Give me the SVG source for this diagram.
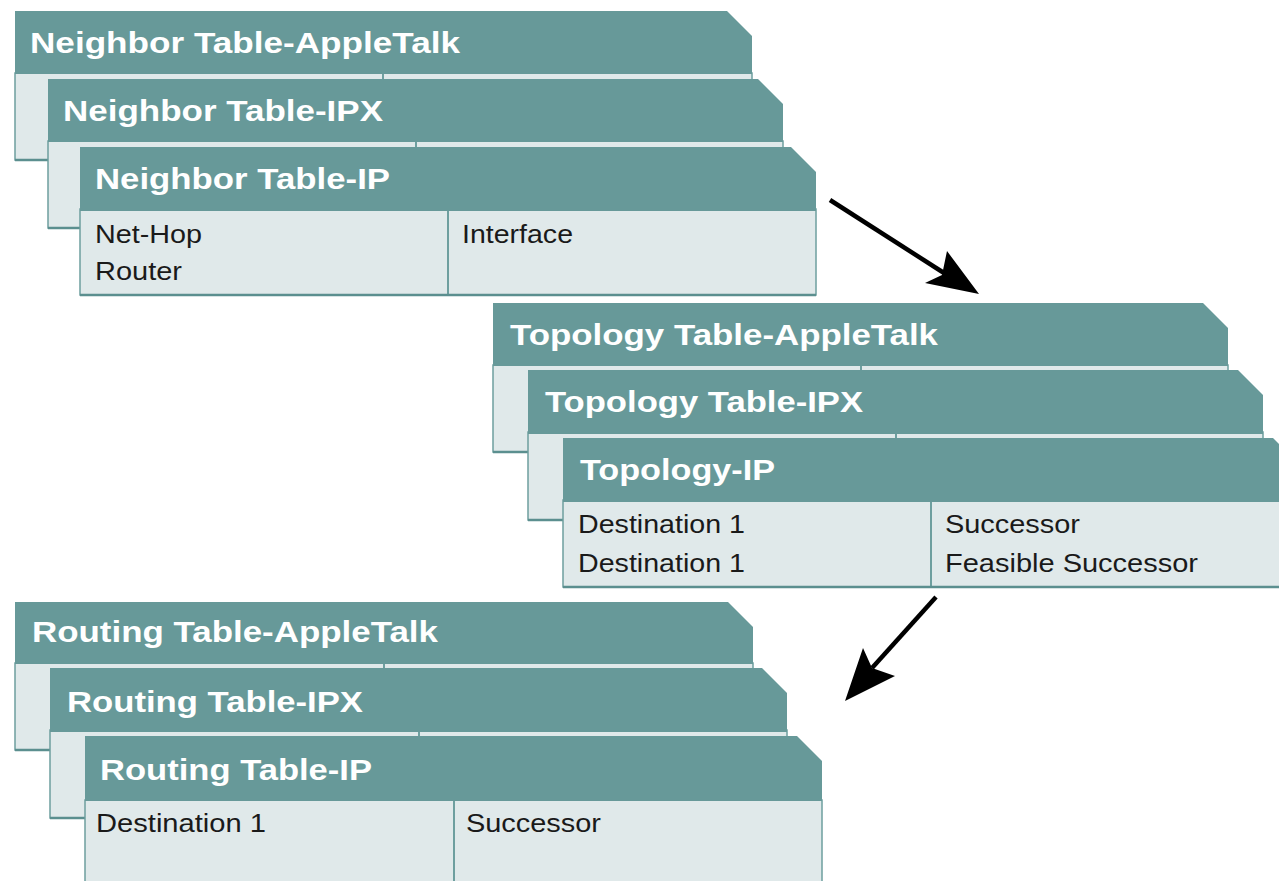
<svg xmlns="http://www.w3.org/2000/svg" width="1279" height="881" viewBox="0 0 1279 881">
<style>
.hd{fill:#679999}
.bd{fill:#e0e9ea;stroke:#6e9f9f;stroke-width:1.5}
.bl{stroke:#5b8f8f;stroke-width:2.5}
.dv{stroke:#6e9f9f;stroke-width:2}
.ht{font-family:"Liberation Sans",Arial,sans-serif;font-weight:bold;font-size:29.5px;fill:#ffffff}
.bt{font-family:"Liberation Sans",Arial,sans-serif;font-size:26px;fill:#1a1a1a}
.ar{stroke:#000;stroke-width:4.5;fill:none}
.ah{fill:#000}
</style>
<rect width="1279" height="881" fill="#ffffff"/>
<g id="neighbor">
 <g id="n-appletalk">
  <rect class="bd" x="15" y="73" width="737" height="87"/>
  <line class="dv" x1="383" y1="73" x2="383" y2="160"/>
  <line class="bl" x1="15" y1="160" x2="752" y2="160"/>
  <path class="hd" d="M15,11 H727 L752,36 V74 H15 Z"/>
  <text class="ht" x="30" y="53" textLength="430" lengthAdjust="spacingAndGlyphs">Neighbor Table-AppleTalk</text>
 </g>
 <g id="n-ipx">
  <rect class="bd" x="48" y="141" width="735" height="87"/>
  <line class="dv" x1="416" y1="141" x2="416" y2="228"/>
  <line class="bl" x1="48" y1="228" x2="783" y2="228"/>
  <path class="hd" d="M48,79 H758 L783,104 V142 H48 Z"/>
  <text class="ht" x="63" y="121" textLength="320" lengthAdjust="spacingAndGlyphs">Neighbor Table-IPX</text>
 </g>
 <g id="n-ip">
  <rect class="bd" x="80" y="209" width="736" height="86"/>
  <line class="dv" x1="448" y1="209" x2="448" y2="295"/>
  <line class="bl" x1="80" y1="295" x2="816" y2="295"/>
  <path class="hd" d="M80,147 H791 L816,172 V211 H80 Z"/>
  <text class="ht" x="95" y="189" textLength="295" lengthAdjust="spacingAndGlyphs">Neighbor Table-IP</text>
  <text class="bt" x="95" y="243" textLength="107" lengthAdjust="spacingAndGlyphs">Net-Hop</text>
  <text class="bt" x="95" y="280" textLength="87" lengthAdjust="spacingAndGlyphs">Router</text>
  <text class="bt" x="462" y="243" textLength="111" lengthAdjust="spacingAndGlyphs">Interface</text>
 </g>
</g>
<g id="topology">
 <g id="t-appletalk">
  <rect class="bd" x="493" y="365" width="735" height="87"/>
  <line class="dv" x1="861" y1="365" x2="861" y2="452"/>
  <line class="bl" x1="493" y1="452" x2="1228" y2="452"/>
  <path class="hd" d="M493,303 H1203 L1228,328 V366 H493 Z"/>
  <text class="ht" x="510" y="345" textLength="428" lengthAdjust="spacingAndGlyphs">Topology Table-AppleTalk</text>
 </g>
 <g id="t-ipx">
  <rect class="bd" x="528" y="432" width="735" height="88"/>
  <line class="dv" x1="896" y1="432" x2="896" y2="520"/>
  <line class="bl" x1="528" y1="520" x2="1263" y2="520"/>
  <path class="hd" d="M528,370 H1238 L1263,395 V434 H528 Z"/>
  <text class="ht" x="545" y="412" textLength="318" lengthAdjust="spacingAndGlyphs">Topology Table-IPX</text>
 </g>
 <g id="t-ip">
  <rect class="bd" x="563" y="500" width="735" height="87"/>
  <line class="dv" x1="931" y1="500" x2="931" y2="587"/>
  <line class="bl" x1="563" y1="587" x2="1298" y2="587"/>
  <path class="hd" d="M563,438 H1273 L1298,463 V502 H563 Z"/>
  <text class="ht" x="580" y="480" textLength="195" lengthAdjust="spacingAndGlyphs">Topology-IP</text>
  <text class="bt" x="578" y="533" textLength="167" lengthAdjust="spacingAndGlyphs">Destination 1</text>
  <text class="bt" x="578" y="572" textLength="167" lengthAdjust="spacingAndGlyphs">Destination 1</text>
  <text class="bt" x="945" y="533" textLength="135" lengthAdjust="spacingAndGlyphs">Successor</text>
  <text class="bt" x="945" y="572" textLength="253" lengthAdjust="spacingAndGlyphs">Feasible Successor</text>
 </g>
</g>
<g id="routing">
 <g id="r-appletalk">
  <rect class="bd" x="15" y="663" width="738" height="87"/>
  <line class="dv" x1="384" y1="663" x2="384" y2="750"/>
  <line class="bl" x1="15" y1="750" x2="753" y2="750"/>
  <path class="hd" d="M15,602 H728 L753,627 V664 H15 Z"/>
  <text class="ht" x="32" y="642" textLength="406" lengthAdjust="spacingAndGlyphs">Routing Table-AppleTalk</text>
 </g>
 <g id="r-ipx">
  <rect class="bd" x="50" y="730" width="737" height="88"/>
  <line class="dv" x1="419" y1="730" x2="419" y2="818"/>
  <line class="bl" x1="50" y1="818" x2="787" y2="818"/>
  <path class="hd" d="M50,668 H762 L787,693 V732 H50 Z"/>
  <text class="ht" x="67" y="712" textLength="296" lengthAdjust="spacingAndGlyphs">Routing Table-IPX</text>
 </g>
 <g id="r-ip">
  <rect class="bd" x="85" y="800" width="737" height="90"/>
  <line class="dv" x1="454" y1="800" x2="454" y2="890"/>
  <path class="hd" d="M85,736 H797 L822,761 V801 H85 Z"/>
  <text class="ht" x="100" y="780" textLength="272" lengthAdjust="spacingAndGlyphs">Routing Table-IP</text>
  <text class="bt" x="96" y="832" textLength="170" lengthAdjust="spacingAndGlyphs">Destination 1</text>
  <text class="bt" x="466" y="832" textLength="135" lengthAdjust="spacingAndGlyphs">Successor</text>
 </g>
</g>
<g id="connectors">
 <line class="ar" x1="830" y1="200" x2="944" y2="273"/>
 <polygon class="ah" points="979,294 925,283 942,275 947,251"/>
 <line class="ar" x1="936" y1="597" x2="872" y2="668"/>
 <polygon class="ah" points="845,701 863,648 872,668 895,676"/>
</g>
</svg>
